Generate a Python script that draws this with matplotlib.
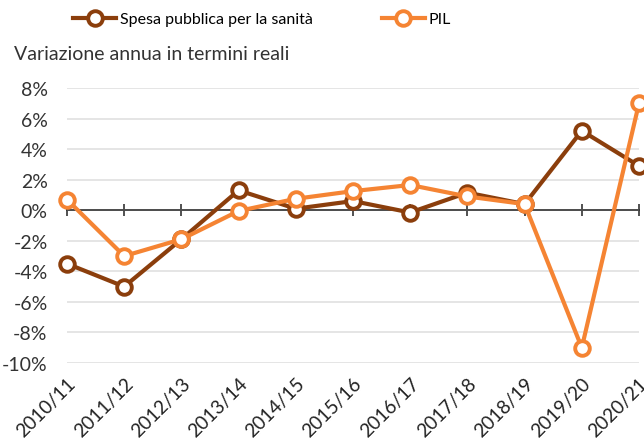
import matplotlib.pyplot as plt
from matplotlib.ticker import FuncFormatter

plt.rcParams['font.family'] = ['Lato', 'DejaVu Sans']

# data
anni = ["2010/11", "2011/12", "2012/13", "2013/14", "2014/15", "2015/16",
        "2016/17", "2017/18", "2018/19", "2019/20", "2020/21"]
spesa = [-3.5, -5.0, -1.9, 1.3, 0.1, 0.6, -0.15, 1.15, 0.4, 5.2, 2.9]
pil = [0.7, -3.0, -1.9, -0.05, 0.75, 1.25, 1.65, 0.9, 0.4, -9.0, 7.0]
y_ticks = [8, 6, 4, 2, 0, -2, -4, -6, -8, -10]

col_spesa = "#8B3E0C"
col_pil = "#F58433"

fig = plt.figure(figsize=(6.44, 4.39), dpi=100)
ax = fig.add_axes([67/644, 1-364/439, (639-67)/644, (364-89)/439])

x = list(range(len(anni)))
style = dict(lw=3, marker='o', ms=10.5, mfc='white', mew=2.8, clip_on=False, zorder=4)
ax.plot(x, spesa, color=col_spesa, label="Spesa pubblica per la sanità", **style)
ax.plot(x, pil, color=col_pil, label="PIL", **style)

ax.set_xlim(0, len(anni) - 1)
ax.set_ylim(-10, 8)
ax.set_yticks(y_ticks)
ax.yaxis.set_major_formatter(FuncFormatter(lambda v, p: f"{v:.0f}%"))
ax.grid(axis='y', color='#e3e3e3', lw=1.3)
ax.set_axisbelow(True)
ax.tick_params(axis='y', length=0, pad=14, labelsize=14, labelcolor='#333333')

for s in ['top', 'right', 'left']:
    ax.spines[s].set_visible(False)
ax.spines['bottom'].set_position(('data', 0))
ax.spines['bottom'].set_color('#222222')
ax.spines['bottom'].set_linewidth(1.1)
ax.set_xticks(x)
ax.tick_params(axis='x', direction='inout', length=9, width=1.1, color='#222222',
               labelbottom=False)

sec = ax.secondary_xaxis('bottom')
sec.spines['bottom'].set_visible(False)
sec.set_xticks(x)
sec.set_xticklabels(anni, rotation=45, ha='right', rotation_mode='anchor')
sec.tick_params(length=0, pad=8, labelsize=13.8, labelcolor='#222222')

fig.text(14/644, 1-55/439, "Variazione annua in termini reali", fontsize=14,
         color='#333333', va='center', ha='left')

fig.legend(loc='center left', bbox_to_anchor=(73/644, 1-20/439), ncol=2,
           frameon=False, fontsize=11.5, handlelength=2.7, handletextpad=0.25,
           columnspacing=4.3, borderaxespad=0, borderpad=0)

fig.savefig("out.png", dpi=100)
